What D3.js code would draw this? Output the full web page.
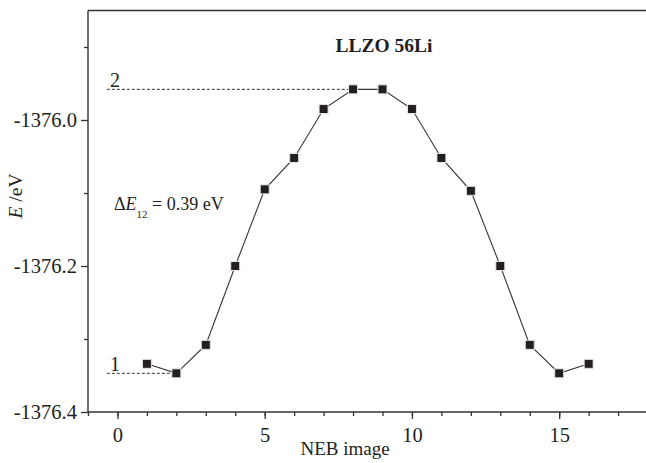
<!DOCTYPE html>
<html><head><meta charset="utf-8">
<script src="https://cdn.jsdelivr.net/npm/d3@7"></script>
<style>
html,body{margin:0;padding:0;background:#fff;}
svg{display:block;}
text{font-family:"Liberation Serif","Times New Roman",serif;fill:#231f20;}
</style></head>
<body>
<svg id="c" width="646" height="463"></svg>
<script>
const images = [1,2,3,4,5,6,7,8,9,10,11,12,13,14,15,16];
const energies = [-1376.334,-1376.347,-1376.308,-1376.200,-1376.095,-1376.052,-1375.985,-1375.958,
                  -1375.958,-1375.985,-1376.052,-1376.097,-1376.200,-1376.308,-1376.347,-1376.334];
const xMajorTicks = [0,5,10,15];
const xMinorTicks = [-1,0,1,2,3,4,5,6,7,8,9,10,11,12,13,14,15,16,17,18];
const yMajorTicks = [-1376.4,-1376.2,-1376.0];
const yMinorTicks = [-1376.3,-1376.1,-1375.9];
const levels = [{label:"1", value:-1376.347, xEnd:2}, {label:"2", value:-1375.958, xEnd:8}];
const title = "LLZO 56Li";

const svg = d3.select("#c");
const L = 88, T = 10.5, B = 412;
const x = d3.scaleLinear().domain([-1, 18]).range([L, L + 19*29.45]);
const y = d3.scaleLinear().domain([-1376.4, -1375.85]).range([B, T]);
const ink = "#231f20";
const serif = '"Liberation Serif","Times New Roman",serif';

const xMinor = svg.append("g").attr("transform",`translate(0,${B})`)
  .call(d3.axisBottom(x).tickValues(xMinorTicks).tickSize(4).tickFormat(""));
const xMajor = svg.append("g").attr("transform",`translate(0,${B})`)
  .call(d3.axisBottom(x).tickValues(xMajorTicks).tickSize(7).tickPadding(8).tickFormat(d3.format("d")));
const yMinor = svg.append("g").attr("transform",`translate(${L},0)`)
  .call(d3.axisLeft(y).tickValues(yMinorTicks).tickSize(4).tickFormat(""));
const yMajor = svg.append("g").attr("transform",`translate(${L},0)`)
  .call(d3.axisLeft(y).tickValues(yMajorTicks).tickSize(7).tickPadding(4).tickFormat(d => d.toFixed(1)));
[xMinor,xMajor,yMinor,yMajor].forEach(g => {
  g.select(".domain").remove();
  g.selectAll(".tick line").attr("stroke", "#333").attr("stroke-width", 1.3);
  g.selectAll(".tick text").style("font-family", serif)
    .style("font-size","20.5px").attr("fill", ink);
});

// frame
svg.append("line").attr("x1",L).attr("x2",L).attr("y1",T).attr("y2",B).attr("stroke","#333").attr("stroke-width",1.4);
svg.append("line").attr("x1",L).attr("x2",646).attr("y1",B).attr("y2",B).attr("stroke","#333").attr("stroke-width",1.4);
svg.append("line").attr("x1",L).attr("x2",646).attr("y1",T).attr("y2",T).attr("stroke","#333").attr("stroke-width",1.4);

// dashed reference levels
levels.forEach(lv => {
  svg.append("line").attr("x1", x(-0.36)).attr("x2", x(lv.xEnd)).attr("y1", y(lv.value)).attr("y2", y(lv.value))
    .attr("stroke", "#333").attr("stroke-width", 1).attr("stroke-dasharray", "3,2");
  svg.append("text").attr("x", x(-0.08)).attr("y", y(lv.value) - 2.5).attr("text-anchor","middle")
    .style("font-size","20px").text(lv.label);
});

// line
const pts = images.map((d,i) => [d, energies[i]]);
svg.append("path").datum(pts)
  .attr("d", d3.line().x(d => x(d[0])).y(d => y(d[1])))
  .attr("fill","none").attr("stroke","#333").attr("stroke-width",1.1);

// markers
svg.append("g").selectAll("rect").data(pts).join("rect")
  .attr("x", d => x(d[0]) - 4.5).attr("y", d => y(d[1]) - 4.5)
  .attr("width", 9).attr("height", 9)
  .attr("fill", ink).attr("stroke", "#e6e6e6").attr("stroke-width", 1);

// title
svg.append("text").attr("x", 384).attr("y", 51.5).attr("text-anchor","middle")
  .style("font-size","19.5px").style("font-weight","bold").text(title);

// delta E annotation
const de = svg.append("text").attr("x", 114).attr("y", 210).style("font-size","18px");
de.append("tspan").text("Δ");
de.append("tspan").style("font-style","italic").text("E");
de.append("tspan").attr("dy", 8).style("font-size","11px").text("12");
de.append("tspan").attr("dy", -8).text(" = 0.39 eV");

// axis titles
svg.append("text").attr("x", 345).attr("y", 455).attr("text-anchor","middle")
  .style("font-size","19px").text("NEB image");
const yl = svg.append("text").attr("transform","translate(22,196) rotate(-90)").attr("text-anchor","middle")
  .style("font-size","19.5px");
yl.append("tspan").style("font-style","italic").text("E");
yl.append("tspan").text(" /eV");
</script>
</body></html>
